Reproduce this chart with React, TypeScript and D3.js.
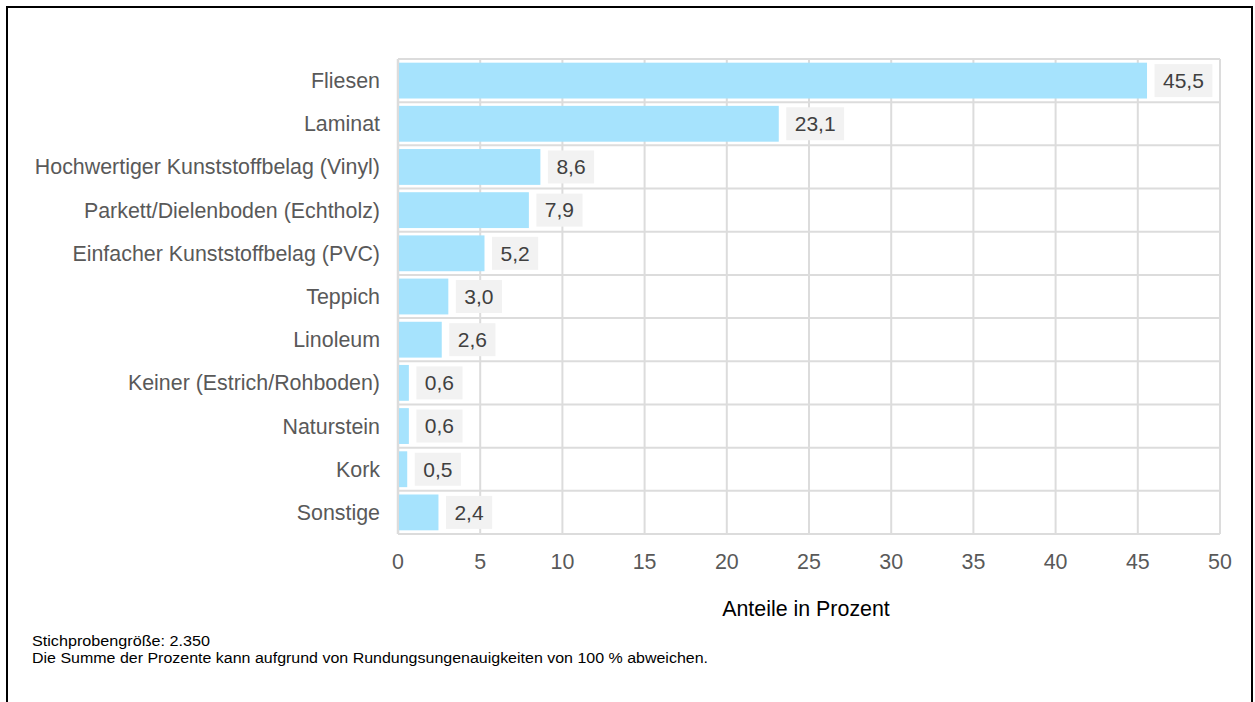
import React from "react";
import * as d3 from "d3";

const categories = [
  "Fliesen",
  "Laminat",
  "Hochwertiger Kunststoffbelag (Vinyl)",
  "Parkett/Dielenboden (Echtholz)",
  "Einfacher Kunststoffbelag (PVC)",
  "Teppich",
  "Linoleum",
  "Keiner (Estrich/Rohboden)",
  "Naturstein",
  "Kork",
  "Sonstige",
];
const values = [45.5, 23.1, 8.6, 7.9, 5.2, 3.0, 2.6, 0.6, 0.6, 0.5, 2.4];
const xTicks = [0, 5, 10, 15, 20, 25, 30, 35, 40, 45, 50];
const axisTitle = "Anteile in Prozent";
const notes = [
  "Stichprobengröße: 2.350",
  "Die Summe der Prozente kann aufgrund von Rundungsungenauigkeiten von 100 % abweichen.",
];

const W = 1255;
const H = 702;
const font = "'Liberation Sans', Arial, sans-serif";
const labelSize = 21;
const noteWidths = [178, 676];

function textWidth(s: string, size: number) {
  let w = 0;
  for (const ch of s) w += ch === "," || ch === "." ? 0.278 : 0.556;
  return w * size;
}

export default function App() {
  const x = d3.scaleLinear().domain([0, 50]).range([398, 1220]);
  const y = d3.scaleBand<string>().domain(categories).range([59, 534]).paddingInner(0.17).paddingOuter(0.085);
  const step = y.step();
  const top = 59;
  const bottom = 534;
  const fmt = (v: number) => v.toFixed(1).replace(".", ",");

  return (
    <div style={{ position: "absolute", left: 0, top: 0, width: W, height: H, background: "#fff" }}>
      <svg width={W} height={H} style={{ display: "block", fontFamily: font }}>
        <rect x={7} y={7} width={1245} height={720} fill="none" stroke="#000" strokeWidth={2} />
        {d3.range(categories.length + 1).map((i) => (
          <line key={"h" + i} x1={398} x2={1220} y1={top + i * step} y2={top + i * step} stroke="#dcdcdc" strokeWidth={2} />
        ))}
        {xTicks.map((t) => (
          <line key={"v" + t} x1={x(t)} x2={x(t)} y1={top} y2={bottom} stroke="#dcdcdc" strokeWidth={t === 0 ? 2.5 : 2} />
        ))}
        {categories.map((c, i) => {
          const by = y(c)!;
          const bh = y.bandwidth();
          const label = fmt(values[i]);
          const tw = textWidth(label, labelSize);
          const bx = x(values[i]) + 8.5;
          const cy = by + bh / 2;
          return (
            <g key={c}>
              <rect x={x(0) + 1} y={by} width={x(values[i]) - x(0)} height={bh} fill="#a6e3fd" />
              <rect x={bx} y={cy - 16.5} width={tw + 17} height={33} fill="#f2f2f2" />
              <text x={bx + 8.5 + tw / 2} y={cy} dy="0.35em" textAnchor="middle" fontSize={labelSize} fill="#404040">
                {label}
              </text>
              <text x={380} y={top + (i + 0.5) * step} dy="0.35em" textAnchor="end" fontSize={21.4} fill="#595959">
                {c}
              </text>
            </g>
          );
        })}
        {xTicks.map((t) => (
          <text key={"t" + t} x={x(t)} y={562} dy="0.35em" textAnchor="middle" fontSize={21.4} fill="#595959">
            {t}
          </text>
        ))}
        <text x={806} y={609} dy="0.35em" textAnchor="middle" fontSize={21.4} fill="#000">
          {axisTitle}
        </text>
        {notes.map((n, i) => (
          <text key={n} x={32} y={645.5 + i * 17} fontSize={15.2} fill="#000" textLength={noteWidths[i]} lengthAdjust="spacingAndGlyphs">
            {n}
          </text>
        ))}
      </svg>
    </div>
  );
}
